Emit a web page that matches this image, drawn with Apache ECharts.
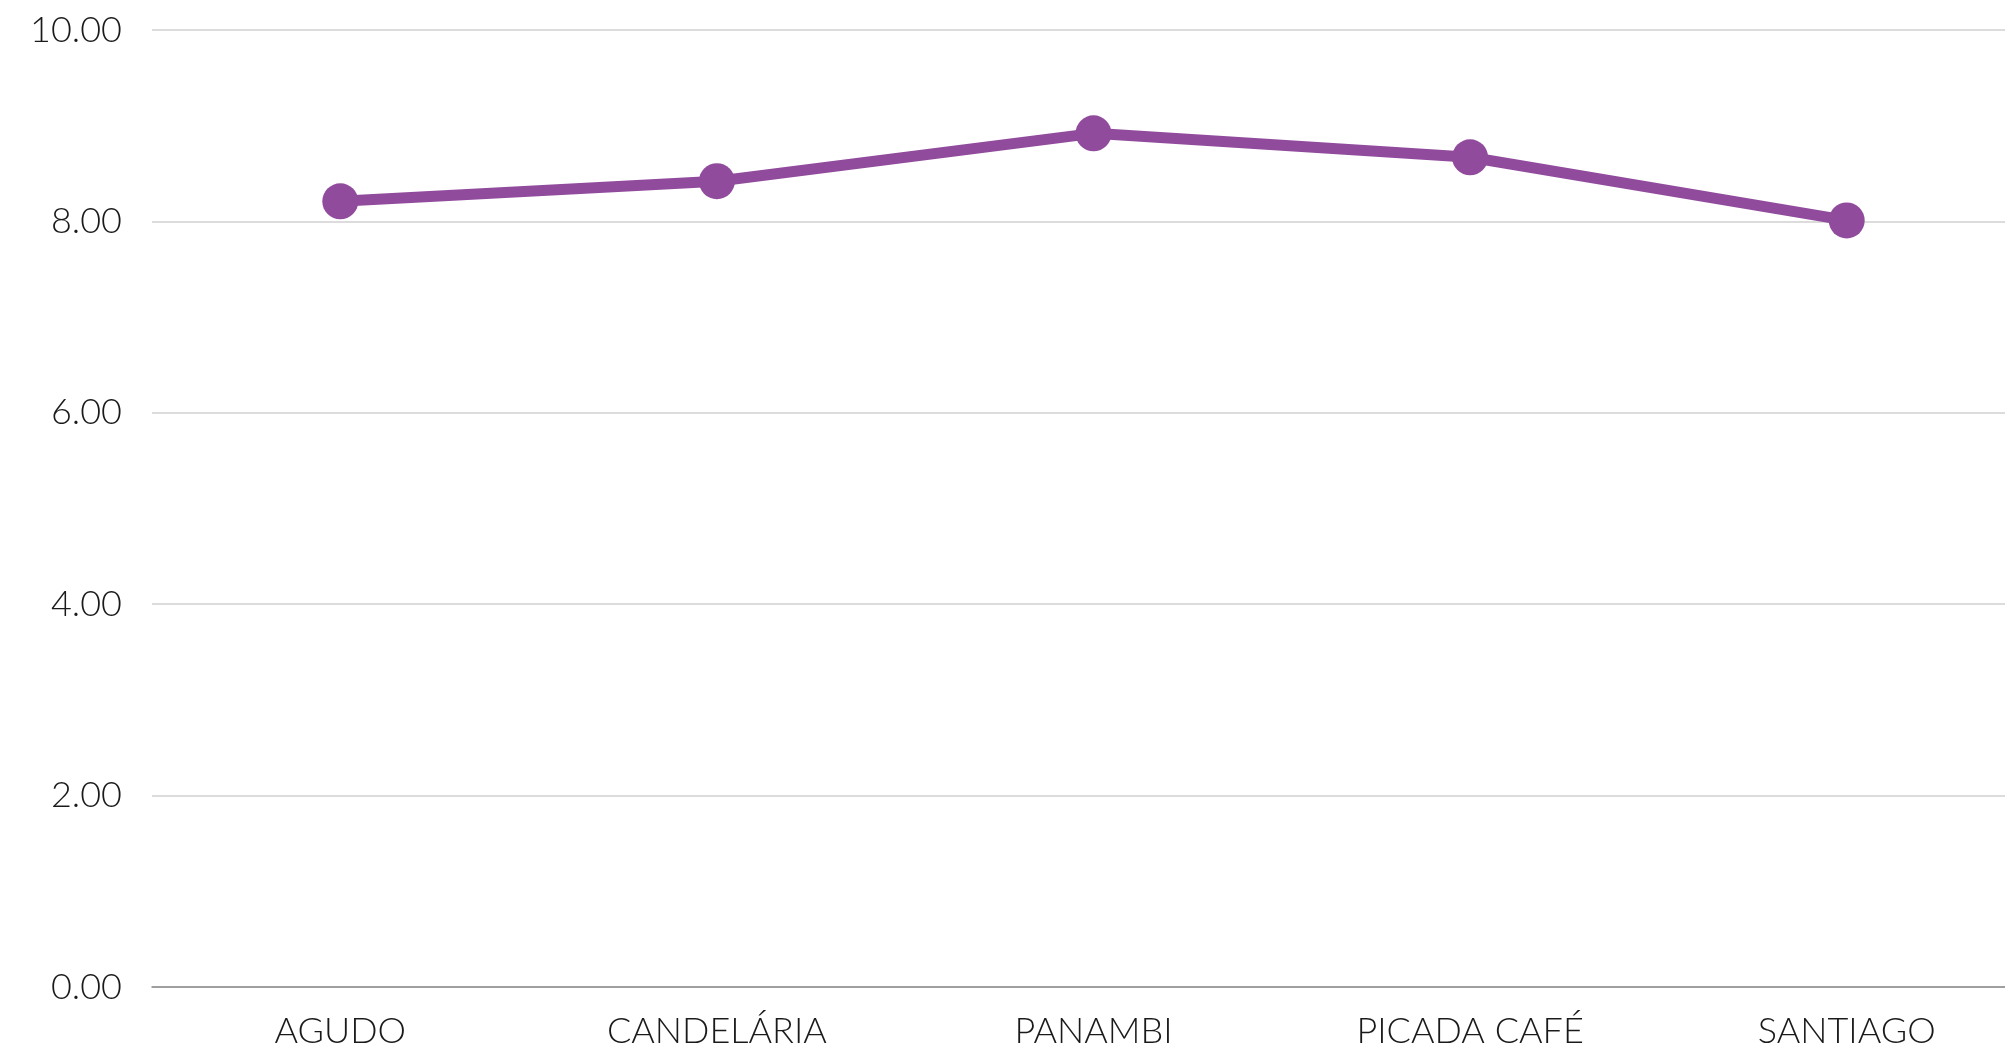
<!DOCTYPE html>
<html>
<head>
<meta charset="utf-8">
<script src="https://cdn.jsdelivr.net/npm/echarts@6/dist/echarts.min.js"></script>
<style>
html,body{margin:0;padding:0;background:#fff;overflow:hidden;width:2005px;height:1049px;}
#chart{width:2035px;height:1049px;}
</style>
</head>
<body>
<div id="chart"></div>
<script>
const categories = ['AGUDO', 'CANDELÁRIA', 'PANAMBI', 'PICADA CAFÉ', 'SANTIAGO'];
const values = [8.21, 8.42, 8.92, 8.67, 8.01];
const yTicks = [0, 2, 4, 6, 8, 10];

const chart = echarts.init(document.getElementById('chart'), null, {renderer: 'canvas'});
chart.setOption({
  animation: false,
  backgroundColor: '#ffffff',
  grid: {left: 152, right: 0, top: 30, bottom: 62, containLabel: false},
  xAxis: {
    type: 'category',
    data: categories,
    boundaryGap: true,
    axisLine: {show: true, lineStyle: {color: '#8a8a8a', width: 1.5}},
    axisTick: {show: false},
    axisLabel: {
      color: '#1a1a1a',
      fontFamily: 'Lato',
      fontWeight: 300,
      fontSize: 36,
      margin: 26
    },
    splitLine: {show: false}
  },
  yAxis: {
    type: 'value',
    min: yTicks[0],
    max: yTicks[yTicks.length - 1],
    interval: 2,
    axisLine: {show: false},
    axisTick: {show: false},
    axisLabel: {
      color: '#1a1a1a',
      fontFamily: 'Lato',
      fontWeight: 300,
      fontSize: 36,
      margin: 30,
      formatter: v => v.toFixed(2)
    },
    splitLine: {lineStyle: {color: '#d0d0d0', width: 1.5}}
  },
  series: [{
    type: 'line',
    data: values,
    symbol: 'circle',
    symbolSize: 36,
    lineStyle: {color: '#914B9D', width: 11},
    itemStyle: {color: '#914B9D'},
    z: 5
  }]
});
</script>
</body>
</html>
